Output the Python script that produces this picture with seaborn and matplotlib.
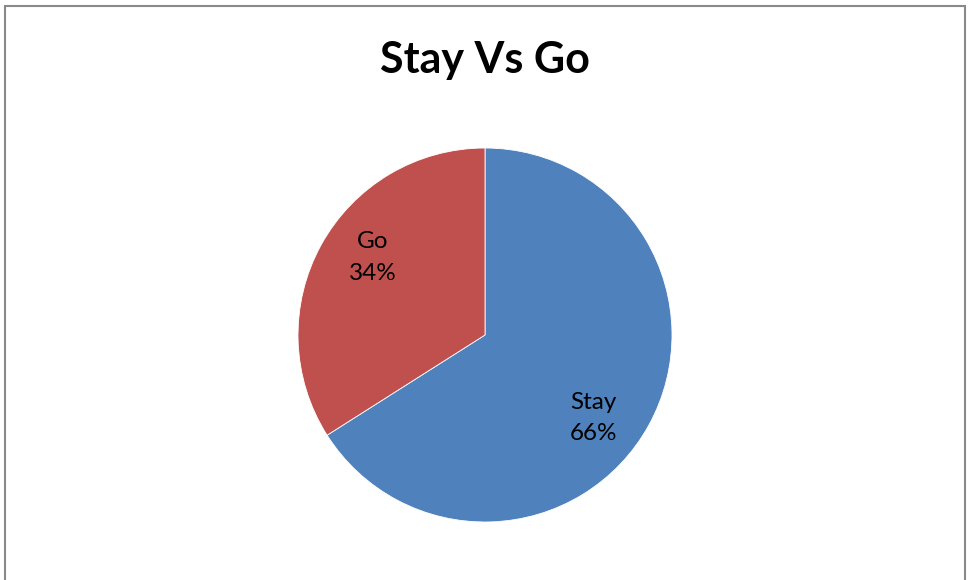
import matplotlib
matplotlib.use("Agg")
import matplotlib.pyplot as plt
import seaborn as sns
import numpy as np

categories = ["Stay", "Go"]
values = [66, 34]
colors = ["#4F81BD", "#C0504D"]
title = "Stay Vs Go"

sns.set_theme(style="white")
plt.rcParams['font.family'] = ['Lato', 'DejaVu Sans']

W, H = 969, 580
fig = plt.figure(figsize=(W / 100, H / 100), dpi=100)
fig.patch.set_facecolor("white")

# border
border = plt.Rectangle((5 / W, -0.02), (965 - 5) / W, (H - 6) / H + 0.02,
                       transform=fig.transFigure, fill=False,
                       edgecolor="#898989", linewidth=1.5)
fig.add_artist(border)

cx, cy, r = 485, 335, 187
ax = fig.add_axes([(cx - r) / W, (H - cy - r) / H, 2 * r / W, 2 * r / H])
wedges, texts = ax.pie(values, colors=colors, startangle=90, counterclock=False,
                       labels=[f"{c}\n{v}%" for c, v in zip(categories, values)],
                       labeldistance=0.72,
                       wedgeprops=dict(linewidth=0.6, edgecolor="white"),
                       textprops=dict(fontsize=17.5, color="black", linespacing=1.6))
ax.set_xlim(-1, 1)
ax.set_ylim(-1, 1)
ax.set_aspect("equal")

# label placement like the original
label_angles = [-37.5, 145.4]
for t, ang in zip(texts, label_angles):
    a = np.deg2rad(ang)
    t.set_position((0.73 * np.cos(a), 0.73 * np.sin(a)))
    t.set_ha("center")
    t.set_va("center")

fig.text(cx / W, 1 - 60 / H, title, ha="center", va="center",
         fontsize=31, fontweight="bold", color="black")

fig.savefig("out.png", dpi=100)
